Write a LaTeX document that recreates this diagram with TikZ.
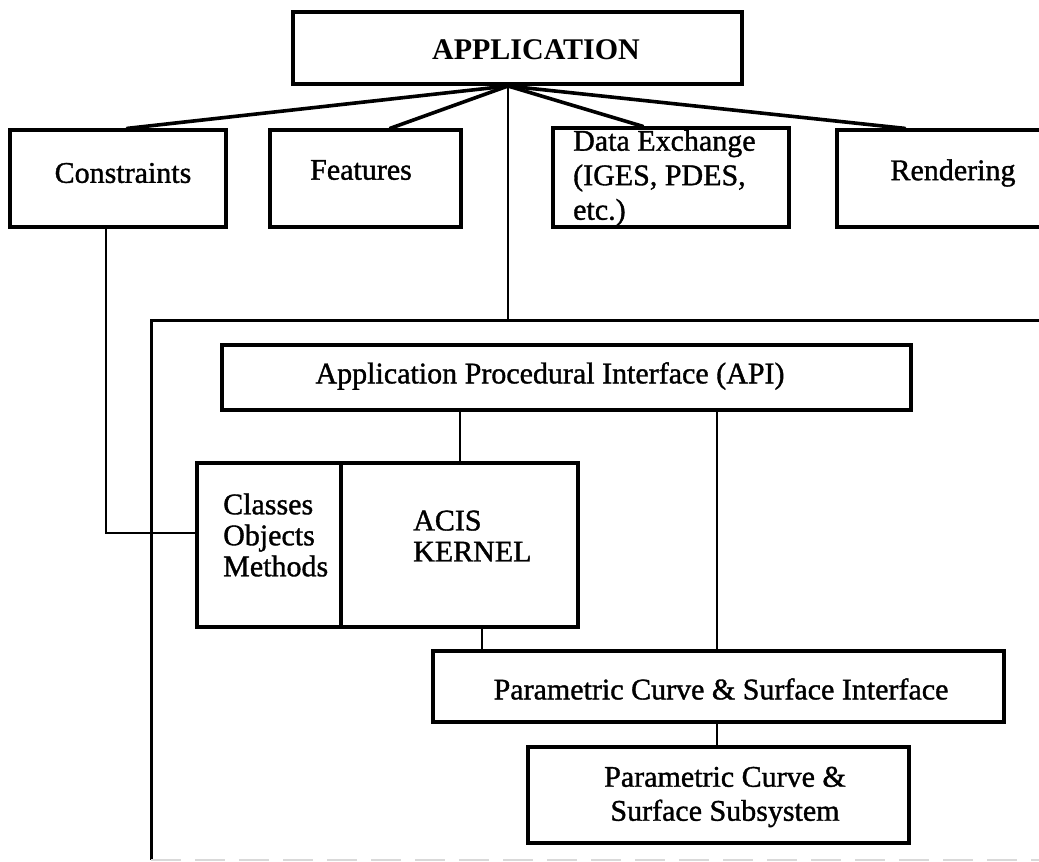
\documentclass[tikz,border=0pt]{standalone}
\usepackage{fontspec}
\setmainfont{Liberation Serif}
\newfontfamily\heavy{Liberation Serif}[FakeBold=1.2]
\begin{document}
\begin{tikzpicture}[x=1pt,y=-1pt,
  box/.style={draw, line width=3.2pt, inner sep=0pt},
  lbl/.style={inner sep=0pt, font=\heavy\fontsize{30}{33}\selectfont},
  fan/.style={line width=3.6pt, line cap=round},
  link/.style={line width=2.6pt},
  frame/.style={line width=3pt},
  faint/.style={gray!30, line width=1.2pt, dash pattern=on 30pt off 14pt}
]
\path[use as bounding box] (0,0) rectangle (1039,862);
\begin{scope}
\clip (0,0) rectangle (1039,862);
% boxes
\node[box, minimum width=449pt, minimum height=72pt] (app)  at (517.5,48) {};
\node[box, minimum width=216pt, minimum height=97pt] (cons) at (118,178.5) {};
\node[box, minimum width=191pt, minimum height=97pt] (feat) at (365.5,178.5) {};
\node[box, minimum width=236pt, minimum height=99pt] (dx)   at (671,177.5) {};
\node[box, minimum width=223pt, minimum height=97pt] (rend) at (948.5,178.5) {};
\node[box, minimum width=689pt, minimum height=65pt] (api)  at (566.5,377.5) {};
\node[box, minimum width=144pt, minimum height=164pt] (cls) at (269,545) {};
\node[box, minimum width=237pt, minimum height=164pt] (kern) at (459.5,545) {};
\node[box, minimum width=571pt, minimum height=71pt] (pcsi) at (718.5,686.5) {};
\node[box, minimum width=381pt, minimum height=96pt] (pcss) at (718.5,795) {};
% texts
\node[lbl, font=\fontsize{30}{33}\selectfont\bfseries] (tapp) at (536,50) {APPLICATION};
\node[lbl] (tcons) at (123,173) {Constraints};
\node[lbl] (tfeat) at (361,170) {Features};
\node[lbl, align=left, font=\heavy\fontsize{30}{34.5}\selectfont, anchor=west] (tdx) at (573,178) {Data Exchange\\(IGES, PDES,\\etc.)};
\node[lbl] (trend) at (953,173) {Rendering};
\node[lbl] (tapi) at (550,376) {Application Procedural Interface (API)};
\node[lbl, align=left, font=\heavy\fontsize{30}{31}\selectfont, anchor=west] (tcls) at (223,535) {Classes\\Objects\\Methods};
\node[lbl, align=left, font=\heavy\fontsize{30}{31}\selectfont, anchor=west] (tkern) at (413,536) {ACIS\\KERNEL};
\node[lbl] (tpcsi) at (721,689) {Parametric Curve \& Surface Interface};
\node[lbl, align=center, font=\heavy\fontsize{30}{34}\selectfont] (tpcss) at (725,797) {Parametric Curve \&\\Surface Subsystem};
% coordinates
\coordinate (apex) at (508,86);
\coordinate (xc) at (127,0);
\coordinate (xf) at (390,0);
\coordinate (xd) at (643,0);
\coordinate (xr) at (905,0);
\coordinate (ftl) at (151,320);
\coordinate (ftr) at (1045,320);
\coordinate (fbl) at (151,860);
\coordinate (fbr) at (1045,860);
\coordinate (cj) at (106,533);
\coordinate (xk) at (460,0);
\coordinate (xp) at (717,0);
\coordinate (xq) at (482,0);
% fan
\draw[fan] (apex) -- (cons.north -| xc);
\draw[fan] (apex) -- (feat.north -| xf);
\draw[fan] (apex) -- (dx.north -| xd);
\draw[fan] (apex) -- (rend.north -| xr);
\draw[link] (apex) -- (apex |- ftl);
% frame
\draw[frame] (ftr) -- (ftl) -- (fbl);
\draw[faint] (fbl) -- (fbr);
% links
\draw[link] (cons.south -| cj) |- (cls.west |- cj);
\draw[link] (api.south -| xk) -- (kern.north -| xk);
\draw[link] (api.south -| xp) -- (pcsi.north -| xp);
\draw[link] (kern.south -| xq) -- (pcsi.north -| xq);
\draw[link] (pcsi.south -| xp) -- (pcss.north -| xp);
\end{scope}
\end{tikzpicture}
\end{document}
